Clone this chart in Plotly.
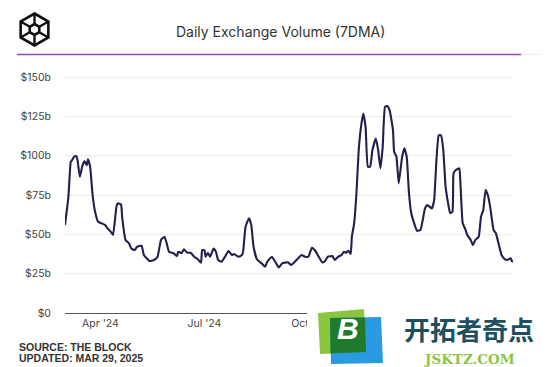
import math
import pandas as pd
import plotly.graph_objects as go

# ---- data ----
start_date = "2024-03-01"
end_date = "2025-03-28"
days_since_start = [
    0, 3, 5, 6, 8, 10, 11, 13, 15, 17, 19, 20, 22, 24, 26, 29, 32, 35, 37, 40,
    42, 45, 46, 49, 50, 53, 56, 58, 61, 63, 67, 69, 74, 78, 81, 84, 87, 89, 91, 95,
    98, 99, 102, 104, 107, 110, 113, 116, 119, 120, 122, 123, 125, 127, 130, 132, 134, 137, 140, 143,
    146, 148, 152, 155, 156, 158, 161, 163, 165, 168, 172, 175, 177, 181, 184, 187, 190, 195, 198, 203,
    207, 210, 213, 216, 219, 222, 225, 227, 230, 234, 236, 239, 242, 244, 246, 248, 250, 251, 253, 255,
    257, 259, 261, 263, 265, 267, 269, 272, 274, 276, 278, 280, 282, 284, 287, 288, 290, 292, 295, 297,
    299, 301, 303, 306, 308, 311, 313, 315, 317, 319, 321, 323, 325, 327, 329, 331, 333, 335, 337, 339,
    340, 342, 345, 346, 348, 350, 352, 355, 357, 359, 362, 364, 366, 368, 370, 372, 375, 377, 379, 382,
    385, 387, 390, 391, 392,
]
volume_b = [
    56, 74, 96, 97, 99.4, 99.8, 97, 86.6, 93, 96.6, 94, 97.7, 93, 76, 65.5, 58, 57, 56, 54, 51.7,
    49.6, 67.6, 69.7, 69, 61, 46.4, 44.3, 41, 40, 42, 42.8, 36.9, 33, 33.7, 35.8, 46.4, 48.5, 44.3, 39, 38,
    36.2, 39, 38, 40.5, 38.3, 38.3, 35.8, 34.3, 32, 40, 40, 35.8, 38.3, 35.8, 41, 39, 33.7, 32.6, 35.8, 39.4,
    36.9, 37.5, 35.8, 36.9, 40, 54.9, 60.2, 56, 42, 34, 31.6, 29.4, 32.6, 35.8, 32.6, 29, 31.6, 32.2, 30.5, 34,
    36.9, 35.8, 35.8, 41.5, 39.6, 35.8, 32.2, 32.6, 35.8, 36.2, 33.7, 35.8, 36.9, 39, 38.3, 39.6, 37.5, 48.5, 57, 76,
    103.6, 118.4, 126.9, 118.4, 93, 93, 103.6, 111, 103.6, 92, 105.7, 131, 131.6, 129, 116.3, 102.5, 99.4, 82.4, 99.4, 104.7,
    99.4, 76, 63.4, 56, 52.3, 52.8, 59, 66.5, 68.6, 67.6, 66.5, 71.8, 97.2, 113, 113, 103.6, 80.3, 70.7, 63.4, 64.4,
    88.8, 90.9, 92, 82.4, 57, 53.8, 49.6, 46.4, 43.2, 46.4, 48.5, 61.2, 65.5, 78.2, 75, 67.6, 52.8, 50.7, 45.3, 36.9,
    34.1, 33.7, 34.8, 33, 32.6,
]
y_tick_vals = [0, 25, 50, 75, 100, 125, 150]
y_tick_text = ["$0", "$25b", "$50b", "$75b", "$100b", "$125b", "$150b"]
x_tick_vals = ["2024-04-01", "2024-07-01", "2024-10-01", "2025-01-01"]
x_tick_text = ["Apr '24", "Jul '24", "Oct '24", "Jan '25"]

title_text = "Daily Exchange Volume (7DMA)"
source_lines = ["SOURCE: THE BLOCK", "UPDATED: MAR 29, 2025"]

dates = pd.Timestamp(start_date) + pd.to_timedelta(days_since_start, unit="D")

# ---- geometry (page body has an 8px margin) ----
OFF = 8
W, H = 555 - OFF, 367 - OFF
PLOT_X0, PLOT_X1, PLOT_Y0, PLOT_Y1 = 62, 513, 76, 313   # screen pixels
L = PLOT_X0 - OFF
R = 555 - PLOT_X1
T = PLOT_Y0 - OFF
B = 367 - PLOT_Y1
PLOT_W = W - L - R
PLOT_H = H - T - B


def px(X, Y):
    """screen pixel -> offset relative to the paper (0,0) anchor (y up)."""
    return X - PLOT_X0, PLOT_Y1 - Y


def paper(X, Y):
    dx, dy = px(X, Y)
    return dx / PLOT_W, dy / PLOT_H


def path_from(points, close=True):
    s = ""
    for i, (X, Y) in enumerate(points):
        dx, dy = px(X, Y)
        s += ("M" if i == 0 else "L") + f"{dx:.2f},{dy:.2f} "
    if close:
        s += "Z"
    return s


def pshape(path, fill=None, line_color=None, line_width=0, layer="above"):
    d = dict(type="path", path=path, xref="paper", yref="paper",
             xsizemode="pixel", ysizemode="pixel", xanchor=0, yanchor=0,
             layer=layer, line=dict(width=line_width, color=line_color or "rgba(0,0,0,0)"))
    if fill:
        d["fillcolor"] = fill
    return d


def note(text, X, Y, size, color, family, xanchor="left"):
    xp, yp = paper(X, Y)
    return dict(text=text, xref="paper", yref="paper", x=xp, y=yp,
                xanchor=xanchor, yanchor="middle", showarrow=False,
                font=dict(family=family, size=size, color=color))


fig = go.Figure()
fig.add_trace(go.Scatter(
    x=dates, y=volume_b, mode="lines",
    line=dict(color="#211f4d", width=2.1, shape="spline", smoothing=0.4),
    hoverinfo="skip", showlegend=False,
))

shapes = []
# header purple rule
shapes.append(pshape(path_from([(14, 54.5), (518, 54.5)], close=False),
                     line_color="#9b45c2", line_width=1.6))
shapes.append(pshape(path_from([(518, 54.5), (537, 54.5)], close=False),
                     line_color="#ececec", line_width=1))

# logo: hexagon cube
cx, cy, r_out, r_in = 31.5, 29.5, 16.0, 5.5
angles = (90, 30, -30, -90, -150, 150)
outer = [(cx + r_out * math.cos(math.radians(a)), cy - r_out * math.sin(math.radians(a))) for a in angles]
inner = [(cx + r_in * math.cos(math.radians(a)), cy - r_in * math.sin(math.radians(a))) for a in angles]
shapes.append(pshape(path_from(outer), line_color="#111111", line_width=2.6))
shapes.append(pshape(path_from(inner), line_color="#111111", line_width=2.6))
for idx in range(6):
    shapes.append(pshape(path_from([outer[idx], inner[idx]], close=False),
                         line_color="#111111", line_width=2.4))

# watermark (overlay in the picture)
shapes.append(pshape(path_from([(304, 306), (555, 306), (555, 367), (304, 367)]), fill="white"))
shapes.append(pshape(path_from([(315, 313), (361, 309), (363, 352), (317, 354)]), fill="#8cc63f"))
shapes.append(pshape(path_from([(327, 318), (378, 317), (380, 363), (328, 364)]), fill="#2a9be0"))
shapes.append(pshape(path_from([(327, 318), (362, 317.5), (363, 352), (327.5, 353.5)]), fill="#1f7a2e"))

fig.update_layout(
    width=W, height=H,
    margin=dict(l=L, r=R, t=T, b=B, pad=0),
    paper_bgcolor="white", plot_bgcolor="white",
    font=dict(family="Inter, Roboto, sans-serif", color="#444444", size=10.5),
    xaxis=dict(
        type="date", range=[start_date, end_date],
        tickvals=x_tick_vals, ticktext=x_tick_text,
        showgrid=False, zeroline=False,
        showline=True, linecolor="#555555", linewidth=1.4,
        ticks="", tickfont=dict(size=10.5, color="#444444"),
        fixedrange=True,
    ),
    yaxis=dict(
        range=[0, 150.7], tickvals=y_tick_vals, ticktext=y_tick_text,
        showgrid=True, gridcolor="#ececec", gridwidth=1,
        zeroline=False, showline=False, ticks="", ticklabelstandoff=13,
        tickfont=dict(size=10.5, color="#444444"),
        fixedrange=True,
    ),
    shapes=shapes,
    annotations=[
        note(title_text, 279, 31, 14, "#333333", "Inter, sans-serif", "center"),
        note("<b>" + source_lines[0] + "</b>", 14, 346.5, 10.5, "#333333", "Liberation Sans, Arial, sans-serif"),
        note("<b>" + source_lines[1] + "</b>", 14, 357.5, 10.5, "#333333", "Liberation Sans, Arial, sans-serif"),
        note("<b><i>B</i></b>", 347, 328.5, 30, "white", "Liberation Sans, Arial, sans-serif", "center"),
        note("<b>开拓者奇点</b>", 469, 328.5, 26, "#1d4f5e", "Noto Sans CJK SC", "center"),
        note("<b>JSKTZ.COM</b>", 469, 358.5, 13.5, "#8cc63f", "DejaVu Serif", "center"),
    ],
)

fig.write_html("out.html", config={"displayModeBar": False})
